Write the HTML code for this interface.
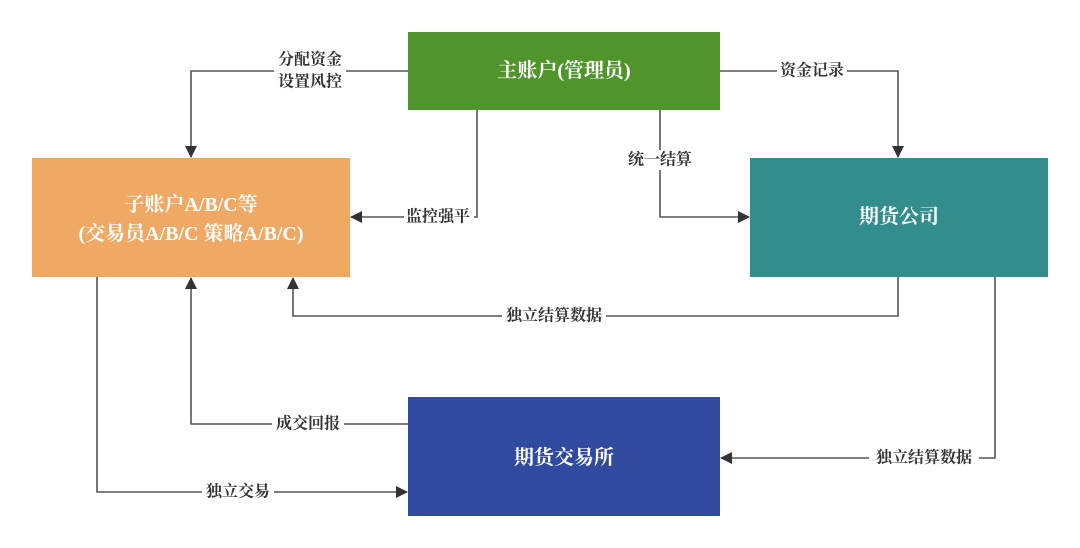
<!DOCTYPE html>
<html><head><meta charset="utf-8"><style>
body{margin:0;width:1080px;height:548px;background:#fff;overflow:hidden;font-family:"Liberation Serif","Noto Serif CJK SC",serif;}
svg{display:block}
.b{font-size:20px;font-weight:bold;fill:#fff;text-anchor:middle;dominant-baseline:central}
.l{font-size:16px;font-weight:bold;fill:#333;text-anchor:middle;dominant-baseline:central}
path{fill:none;stroke:#555;stroke-width:1.6}
.bg{fill:#fff;stroke:none}
</style></head><body>
<svg width="1080" height="548" viewBox="0 0 1080 548">
<defs><marker id="a" markerWidth="12" markerHeight="12" refX="11" refY="6" orient="auto" markerUnits="userSpaceOnUse"><path d="M0,0 L12,6 L0,12 z" style="fill:#333;stroke:none"/></marker></defs>
<rect x="408" y="32" width="312" height="78" fill="#4f952c"/>
<rect x="32" y="158" width="318" height="119" fill="#f0a965"/>
<rect x="750" y="158" width="298" height="119" fill="#328d8c"/>
<rect x="408" y="397" width="312" height="119" fill="#2f4a9f"/>
<path d="M408,71 H191 V157" marker-end="url(#a)"/>
<path d="M477,110 V217 H351" marker-end="url(#a)"/>
<path d="M660,110 V217 H749" marker-end="url(#a)"/>
<path d="M720,71 H898 V157" marker-end="url(#a)"/>
<path d="M898,277 V316 H293 V278" marker-end="url(#a)"/>
<path d="M995,277 V458 H721" marker-end="url(#a)"/>
<path d="M408,424 H191 V278" marker-end="url(#a)"/>
<path d="M97,277 V492 H407" marker-end="url(#a)"/>
<rect class="bg" x="274" y="48" width="72" height="46"/>
<text class="l" x="310" y="60">分配资金</text><text class="l" x="310" y="82">设置风控</text>
<rect class="bg" x="404" y="207" width="70" height="20"/><text class="l" x="438" y="217">监控强平</text>
<rect class="bg" x="626" y="150" width="68" height="20"/><text class="l" x="660" y="160">统一结算</text>
<rect class="bg" x="777" y="61" width="70" height="20"/><text class="l" x="812" y="71">资金记录</text>
<rect class="bg" x="502" y="306" width="104" height="20"/><text class="l" x="554" y="316">独立结算数据</text>
<rect class="bg" x="869" y="448" width="110" height="20"/><text class="l" x="924" y="458">独立结算数据</text>
<rect class="bg" x="272" y="414" width="72" height="20"/><text class="l" x="308" y="424">成交回报</text>
<rect class="bg" x="202" y="482" width="72" height="20"/><text class="l" x="238" y="492">独立交易</text>
<text class="b" x="564" y="71">主账户(管理员)</text>
<text class="b" x="191" y="205">子账户A/B/C等</text>
<text class="b" x="191" y="234">(交易员A/B/C 策略A/B/C)</text>
<text class="b" x="899" y="217">期货公司</text>
<text class="b" x="564" y="458">期货交易所</text>
</svg>
</body></html>
